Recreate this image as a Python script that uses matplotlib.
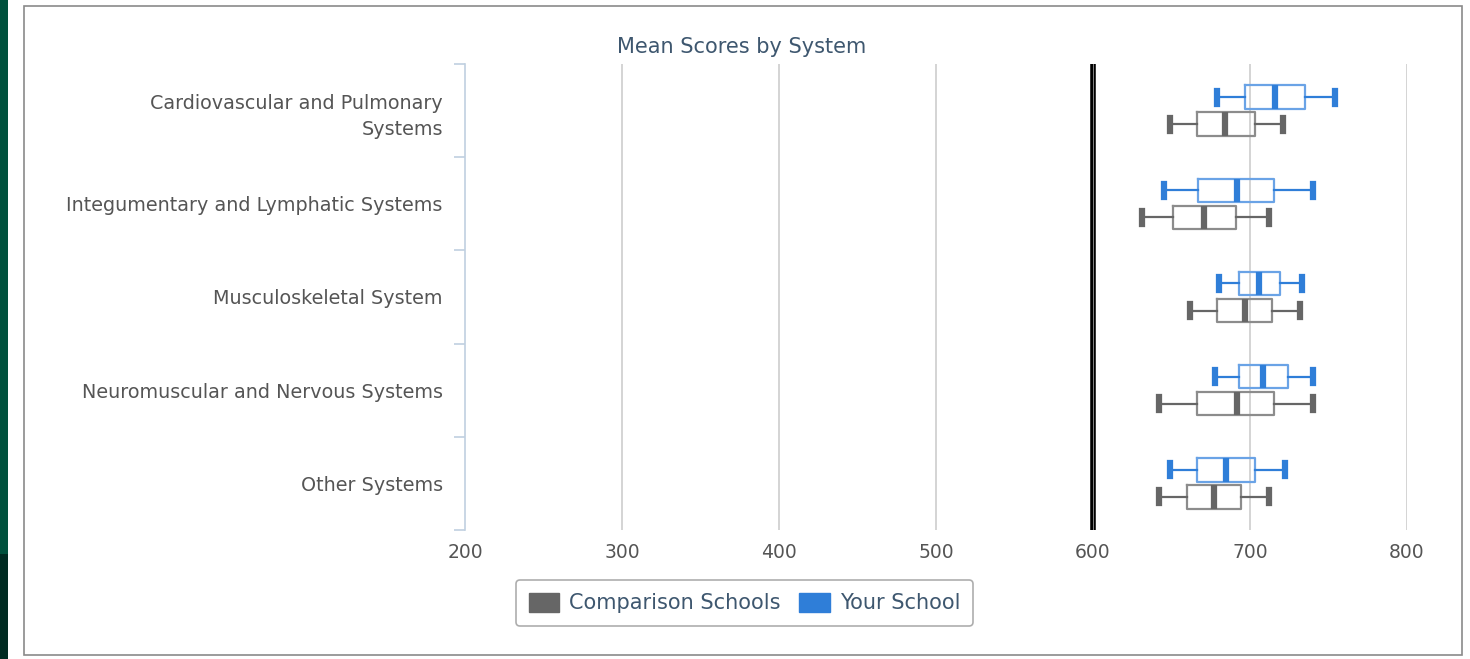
import matplotlib
matplotlib.use("Agg")
import matplotlib.pyplot as plt
from matplotlib.patches import Patch, Rectangle

plt.rcParams["font.family"] = ["DejaVu Sans"]

# -------------------------
# data
# -------------------------
systems = [
    "Cardiovascular and Pulmonary\nSystems",
    "Integumentary and Lymphatic Systems",
    "Musculoskeletal System",
    "Neuromuscular and Nervous Systems",
    "Other Systems",
]

comp_low = [649, 631, 662, 642, 642]
comp_q1 = [666, 651, 679, 666, 660]
comp_med = [684, 671, 697, 692, 677]
comp_q3 = [703, 691, 714, 715, 694]
comp_high = [721, 712, 732, 740, 712]

your_low = [679, 645, 680, 678, 649]
your_q1 = [697, 667, 693, 693, 666]
your_med = [716, 692, 706, 708, 685]
your_q3 = [735, 715, 719, 724, 703]
your_high = [754, 740, 733, 740, 722]

x_ticks = [200, 300, 400, 500, 600, 700, 800]
ref_line = 600

gray = "#666666"
blue = "#2f7ed8"
label_col = "#555555"
title_col = "#3E576F"


def make_stats(lo, q1, med, q3, hi):
    return [dict(whislo=a, q1=b, med=c, q3=d, whishi=e, fliers=[])
            for a, b, c, d, e in zip(lo, q1, med, q3, hi)]


fig = plt.figure(figsize=(14.7, 6.59), dpi=100)

# outer panel + green strip
fig.patches.append(Rectangle((24 / 1470, 4 / 659), 1438 / 1470, 649 / 659,
                             transform=fig.transFigure, fill=False,
                             edgecolor="#8a8a8a", lw=1.2))
fig.patches.append(Rectangle((0, 0.16), 8 / 1470, 0.84, transform=fig.transFigure,
                             color="#00513d", lw=0))
fig.patches.append(Rectangle((0, 0), 8 / 1470, 0.16, transform=fig.transFigure,
                             color="#002b22", lw=0))

ax = fig.add_axes([465 / 1470, 129 / 659, 942 / 1470, 466 / 659])

pos = list(range(len(systems)))
off = 0.145

ax.bxp(make_stats(comp_low, comp_q1, comp_med, comp_q3, comp_high),
       positions=[p + off for p in pos], orientation="horizontal",
       widths=0.25, capwidths=0.14, showfliers=False,
       boxprops=dict(color="#8c8c8c", lw=1.6),
       whiskerprops=dict(color=gray, lw=1.6),
       capprops=dict(color=gray, lw=4.5),
       medianprops=dict(color=gray, lw=4.5, solid_capstyle="butt"))

ax.bxp(make_stats(your_low, your_q1, your_med, your_q3, your_high),
       positions=[p - off for p in pos], orientation="horizontal",
       widths=0.25, capwidths=0.14, showfliers=False,
       boxprops=dict(color="#6aa3e6", lw=1.6),
       whiskerprops=dict(color=blue, lw=1.6),
       capprops=dict(color=blue, lw=4.5),
       medianprops=dict(color=blue, lw=4.5, solid_capstyle="butt"))

# grid + reference line
for t in x_ticks[1:]:
    if t != ref_line:
        ax.axvline(t, color="#d4d4d4", lw=1.4, zorder=0)
ax.axvline(ref_line, color="black", lw=4, zorder=1)
ax.axvline(ref_line, color="#9a9a9a", lw=0.6, zorder=1)

ax.set_xlim(200, 800)
ax.set_ylim(len(systems) - 0.5, -0.5)
ax.set_xticks(x_ticks)
ax.set_xticklabels([str(t) for t in x_ticks], fontsize=13.5, color=label_col)
ax.tick_params(axis="x", length=0, pad=9)

ax.set_yticks(pos)
ax.set_yticklabels(systems, fontsize=13.8, color=label_col, ha="right",
                   linespacing=1.5)
ax.tick_params(axis="y", which="major", length=0, pad=16)
ax.set_yticks([p - 0.5 for p in pos] + [len(systems) - 0.5], minor=True)
ax.tick_params(axis="y", which="minor", length=8, color="#c0d0e0", width=1.2)

for s in ["top", "right", "bottom"]:
    ax.spines[s].set_visible(False)
ax.spines["left"].set_color("#c0d0e0")
ax.spines["left"].set_linewidth(1.2)

fig.text(0.5048, 0.9287, "Mean Scores by System", ha="center", va="center",
         fontsize=15, color=title_col)

handles = [Patch(facecolor=gray, edgecolor=gray, label="Comparison Schools"),
           Patch(facecolor=blue, edgecolor=blue, label="Your School")]
leg = fig.legend(handles=handles, loc="center", bbox_to_anchor=(0.5065, 0.085),
                 ncol=2, fontsize=15, frameon=True, fancybox=True,
                 handlelength=1.45, handleheight=1.05, columnspacing=0.9,
                 handletextpad=0.5, borderpad=0.6, borderaxespad=0,
                 labelcolor=title_col)
leg.get_frame().set_edgecolor("#999999")
leg.get_frame().set_linewidth(1.2)

fig.savefig("out.png", dpi=100)
